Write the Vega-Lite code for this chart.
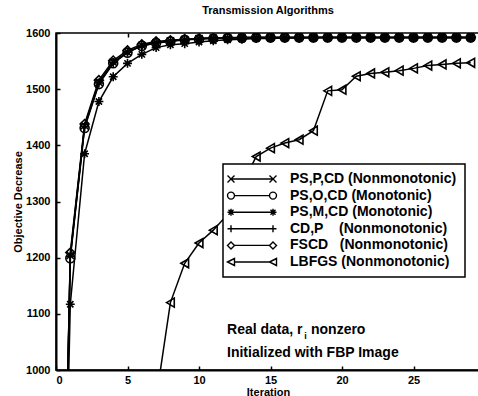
{
  "$schema": "https://vega.github.io/schema/vega-lite/v6.json",
  "width": 424,
  "height": 337,
  "autosize": "none",
  "padding": {"left": 56, "top": 33, "right": 0, "bottom": 26},
  "background": "white",
  "title": {"text": "Transmission Algorithms", "font": "Liberation Sans", "fontSize": 11, "fontWeight": "bold", "color": "black", "anchor": "middle", "offset": 11},
  "config": {
    "view": {"stroke": "black", "strokeWidth": 1.5},
    "axis": {"labelFont": "Liberation Sans", "labelFontWeight": "bold", "labelFontSize": 11, "labelColor": "black", "titleFont": "Liberation Sans", "titleFontWeight": "bold", "titleFontSize": 11, "titleColor": "black", "domainColor": "black", "domainWidth": 2, "tickColor": "black", "tickWidth": 1.5, "grid": false},
    "legend": {"orient": "none", "legendX": 167, "legendY": 131, "fillColor": "white", "strokeColor": "black", "strokeWidth": 1.5, "padding": 8, "labelFont": "Liberation Sans", "labelFontWeight": "bold", "labelFontSize": 14, "labelColor": "black", "labelLimit": 500, "labelOffset": 45, "rowPadding": 2.6, "symbolSize": 100, "symbolStrokeColor": "black", "symbolFillColor": "transparent", "symbolStrokeWidth": 1.4, "symbolOpacity": 1},
    "text": {"font": "Liberation Sans", "fontWeight": "bold", "color": "black"}
  },
  "datasets": {
    "curves": [
      {"series": "PS,P,CD (Nonmonotonic)", "x": 0, "y": 0},
      {"series": "PS,P,CD (Nonmonotonic)", "x": 1, "y": 1204},
      {"series": "PS,P,CD (Nonmonotonic)", "x": 2, "y": 1435},
      {"series": "PS,P,CD (Nonmonotonic)", "x": 3, "y": 1512},
      {"series": "PS,P,CD (Nonmonotonic)", "x": 4, "y": 1548},
      {"series": "PS,P,CD (Nonmonotonic)", "x": 5, "y": 1566},
      {"series": "PS,P,CD (Nonmonotonic)", "x": 6, "y": 1578},
      {"series": "PS,P,CD (Nonmonotonic)", "x": 7, "y": 1583},
      {"series": "PS,P,CD (Nonmonotonic)", "x": 8, "y": 1586},
      {"series": "PS,P,CD (Nonmonotonic)", "x": 9, "y": 1588},
      {"series": "PS,P,CD (Nonmonotonic)", "x": 10, "y": 1590},
      {"series": "PS,P,CD (Nonmonotonic)", "x": 11, "y": 1591},
      {"series": "PS,P,CD (Nonmonotonic)", "x": 12, "y": 1591},
      {"series": "PS,P,CD (Nonmonotonic)", "x": 13, "y": 1592},
      {"series": "PS,P,CD (Nonmonotonic)", "x": 14, "y": 1592},
      {"series": "PS,P,CD (Nonmonotonic)", "x": 15, "y": 1592},
      {"series": "PS,P,CD (Nonmonotonic)", "x": 16, "y": 1592},
      {"series": "PS,P,CD (Nonmonotonic)", "x": 17, "y": 1592},
      {"series": "PS,P,CD (Nonmonotonic)", "x": 18, "y": 1592},
      {"series": "PS,P,CD (Nonmonotonic)", "x": 19, "y": 1592},
      {"series": "PS,P,CD (Nonmonotonic)", "x": 20, "y": 1592},
      {"series": "PS,P,CD (Nonmonotonic)", "x": 21, "y": 1592},
      {"series": "PS,P,CD (Nonmonotonic)", "x": 22, "y": 1592},
      {"series": "PS,P,CD (Nonmonotonic)", "x": 23, "y": 1592},
      {"series": "PS,P,CD (Nonmonotonic)", "x": 24, "y": 1592},
      {"series": "PS,P,CD (Nonmonotonic)", "x": 25, "y": 1592},
      {"series": "PS,P,CD (Nonmonotonic)", "x": 26, "y": 1592},
      {"series": "PS,P,CD (Nonmonotonic)", "x": 27, "y": 1592},
      {"series": "PS,P,CD (Nonmonotonic)", "x": 28, "y": 1592},
      {"series": "PS,P,CD (Nonmonotonic)", "x": 29, "y": 1592},
      {"series": "PS,O,CD (Monotonic)", "x": 0, "y": 0},
      {"series": "PS,O,CD (Monotonic)", "x": 1, "y": 1199},
      {"series": "PS,O,CD (Monotonic)", "x": 2, "y": 1431},
      {"series": "PS,O,CD (Monotonic)", "x": 3, "y": 1509},
      {"series": "PS,O,CD (Monotonic)", "x": 4, "y": 1546},
      {"series": "PS,O,CD (Monotonic)", "x": 5, "y": 1565},
      {"series": "PS,O,CD (Monotonic)", "x": 6, "y": 1577},
      {"series": "PS,O,CD (Monotonic)", "x": 7, "y": 1582},
      {"series": "PS,O,CD (Monotonic)", "x": 8, "y": 1585},
      {"series": "PS,O,CD (Monotonic)", "x": 9, "y": 1588},
      {"series": "PS,O,CD (Monotonic)", "x": 10, "y": 1589},
      {"series": "PS,O,CD (Monotonic)", "x": 11, "y": 1590},
      {"series": "PS,O,CD (Monotonic)", "x": 12, "y": 1591},
      {"series": "PS,O,CD (Monotonic)", "x": 13, "y": 1591},
      {"series": "PS,O,CD (Monotonic)", "x": 14, "y": 1592},
      {"series": "PS,O,CD (Monotonic)", "x": 15, "y": 1592},
      {"series": "PS,O,CD (Monotonic)", "x": 16, "y": 1592},
      {"series": "PS,O,CD (Monotonic)", "x": 17, "y": 1592},
      {"series": "PS,O,CD (Monotonic)", "x": 18, "y": 1592},
      {"series": "PS,O,CD (Monotonic)", "x": 19, "y": 1592},
      {"series": "PS,O,CD (Monotonic)", "x": 20, "y": 1592},
      {"series": "PS,O,CD (Monotonic)", "x": 21, "y": 1592},
      {"series": "PS,O,CD (Monotonic)", "x": 22, "y": 1592},
      {"series": "PS,O,CD (Monotonic)", "x": 23, "y": 1592},
      {"series": "PS,O,CD (Monotonic)", "x": 24, "y": 1592},
      {"series": "PS,O,CD (Monotonic)", "x": 25, "y": 1592},
      {"series": "PS,O,CD (Monotonic)", "x": 26, "y": 1592},
      {"series": "PS,O,CD (Monotonic)", "x": 27, "y": 1592},
      {"series": "PS,O,CD (Monotonic)", "x": 28, "y": 1592},
      {"series": "PS,O,CD (Monotonic)", "x": 29, "y": 1592},
      {"series": "PS,M,CD (Monotonic)", "x": 0, "y": 0},
      {"series": "PS,M,CD (Monotonic)", "x": 1, "y": 1117},
      {"series": "PS,M,CD (Monotonic)", "x": 2, "y": 1385},
      {"series": "PS,M,CD (Monotonic)", "x": 3, "y": 1478},
      {"series": "PS,M,CD (Monotonic)", "x": 4, "y": 1522},
      {"series": "PS,M,CD (Monotonic)", "x": 5, "y": 1546},
      {"series": "PS,M,CD (Monotonic)", "x": 6, "y": 1562},
      {"series": "PS,M,CD (Monotonic)", "x": 7, "y": 1574},
      {"series": "PS,M,CD (Monotonic)", "x": 8, "y": 1579},
      {"series": "PS,M,CD (Monotonic)", "x": 9, "y": 1581},
      {"series": "PS,M,CD (Monotonic)", "x": 10, "y": 1584},
      {"series": "PS,M,CD (Monotonic)", "x": 11, "y": 1586},
      {"series": "PS,M,CD (Monotonic)", "x": 12, "y": 1588},
      {"series": "PS,M,CD (Monotonic)", "x": 13, "y": 1589},
      {"series": "PS,M,CD (Monotonic)", "x": 14, "y": 1590},
      {"series": "PS,M,CD (Monotonic)", "x": 15, "y": 1590},
      {"series": "PS,M,CD (Monotonic)", "x": 16, "y": 1591},
      {"series": "PS,M,CD (Monotonic)", "x": 17, "y": 1591},
      {"series": "PS,M,CD (Monotonic)", "x": 18, "y": 1592},
      {"series": "PS,M,CD (Monotonic)", "x": 19, "y": 1592},
      {"series": "PS,M,CD (Monotonic)", "x": 20, "y": 1592},
      {"series": "PS,M,CD (Monotonic)", "x": 21, "y": 1592},
      {"series": "PS,M,CD (Monotonic)", "x": 22, "y": 1592},
      {"series": "PS,M,CD (Monotonic)", "x": 23, "y": 1592},
      {"series": "PS,M,CD (Monotonic)", "x": 24, "y": 1592},
      {"series": "PS,M,CD (Monotonic)", "x": 25, "y": 1592},
      {"series": "PS,M,CD (Monotonic)", "x": 26, "y": 1592},
      {"series": "PS,M,CD (Monotonic)", "x": 27, "y": 1592},
      {"series": "PS,M,CD (Monotonic)", "x": 28, "y": 1592},
      {"series": "PS,M,CD (Monotonic)", "x": 29, "y": 1592},
      {"series": "CD,P\u00a0\u00a0\u00a0\u00a0(Nonmonotonic)", "x": 0, "y": 0},
      {"series": "CD,P\u00a0\u00a0\u00a0\u00a0(Nonmonotonic)", "x": 1, "y": 1202},
      {"series": "CD,P\u00a0\u00a0\u00a0\u00a0(Nonmonotonic)", "x": 2, "y": 1433},
      {"series": "CD,P\u00a0\u00a0\u00a0\u00a0(Nonmonotonic)", "x": 3, "y": 1511},
      {"series": "CD,P\u00a0\u00a0\u00a0\u00a0(Nonmonotonic)", "x": 4, "y": 1547},
      {"series": "CD,P\u00a0\u00a0\u00a0\u00a0(Nonmonotonic)", "x": 5, "y": 1566},
      {"series": "CD,P\u00a0\u00a0\u00a0\u00a0(Nonmonotonic)", "x": 6, "y": 1577},
      {"series": "CD,P\u00a0\u00a0\u00a0\u00a0(Nonmonotonic)", "x": 7, "y": 1583},
      {"series": "CD,P\u00a0\u00a0\u00a0\u00a0(Nonmonotonic)", "x": 8, "y": 1586},
      {"series": "CD,P\u00a0\u00a0\u00a0\u00a0(Nonmonotonic)", "x": 9, "y": 1588},
      {"series": "CD,P\u00a0\u00a0\u00a0\u00a0(Nonmonotonic)", "x": 10, "y": 1590},
      {"series": "CD,P\u00a0\u00a0\u00a0\u00a0(Nonmonotonic)", "x": 11, "y": 1591},
      {"series": "CD,P\u00a0\u00a0\u00a0\u00a0(Nonmonotonic)", "x": 12, "y": 1591},
      {"series": "CD,P\u00a0\u00a0\u00a0\u00a0(Nonmonotonic)", "x": 13, "y": 1592},
      {"series": "CD,P\u00a0\u00a0\u00a0\u00a0(Nonmonotonic)", "x": 14, "y": 1592},
      {"series": "CD,P\u00a0\u00a0\u00a0\u00a0(Nonmonotonic)", "x": 15, "y": 1592},
      {"series": "CD,P\u00a0\u00a0\u00a0\u00a0(Nonmonotonic)", "x": 16, "y": 1592},
      {"series": "CD,P\u00a0\u00a0\u00a0\u00a0(Nonmonotonic)", "x": 17, "y": 1592},
      {"series": "CD,P\u00a0\u00a0\u00a0\u00a0(Nonmonotonic)", "x": 18, "y": 1592},
      {"series": "CD,P\u00a0\u00a0\u00a0\u00a0(Nonmonotonic)", "x": 19, "y": 1592},
      {"series": "CD,P\u00a0\u00a0\u00a0\u00a0(Nonmonotonic)", "x": 20, "y": 1592},
      {"series": "CD,P\u00a0\u00a0\u00a0\u00a0(Nonmonotonic)", "x": 21, "y": 1592},
      {"series": "CD,P\u00a0\u00a0\u00a0\u00a0(Nonmonotonic)", "x": 22, "y": 1592},
      {"series": "CD,P\u00a0\u00a0\u00a0\u00a0(Nonmonotonic)", "x": 23, "y": 1592},
      {"series": "CD,P\u00a0\u00a0\u00a0\u00a0(Nonmonotonic)", "x": 24, "y": 1592},
      {"series": "CD,P\u00a0\u00a0\u00a0\u00a0(Nonmonotonic)", "x": 25, "y": 1592},
      {"series": "CD,P\u00a0\u00a0\u00a0\u00a0(Nonmonotonic)", "x": 26, "y": 1592},
      {"series": "CD,P\u00a0\u00a0\u00a0\u00a0(Nonmonotonic)", "x": 27, "y": 1592},
      {"series": "CD,P\u00a0\u00a0\u00a0\u00a0(Nonmonotonic)", "x": 28, "y": 1592},
      {"series": "CD,P\u00a0\u00a0\u00a0\u00a0(Nonmonotonic)", "x": 29, "y": 1592},
      {"series": "FSCD\u00a0\u00a0\u00a0(Nonmonotonic)", "x": 0, "y": 0},
      {"series": "FSCD\u00a0\u00a0\u00a0(Nonmonotonic)", "x": 1, "y": 1209},
      {"series": "FSCD\u00a0\u00a0\u00a0(Nonmonotonic)", "x": 2, "y": 1438},
      {"series": "FSCD\u00a0\u00a0\u00a0(Nonmonotonic)", "x": 3, "y": 1516},
      {"series": "FSCD\u00a0\u00a0\u00a0(Nonmonotonic)", "x": 4, "y": 1551},
      {"series": "FSCD\u00a0\u00a0\u00a0(Nonmonotonic)", "x": 5, "y": 1569},
      {"series": "FSCD\u00a0\u00a0\u00a0(Nonmonotonic)", "x": 6, "y": 1580},
      {"series": "FSCD\u00a0\u00a0\u00a0(Nonmonotonic)", "x": 7, "y": 1585},
      {"series": "FSCD\u00a0\u00a0\u00a0(Nonmonotonic)", "x": 8, "y": 1587},
      {"series": "FSCD\u00a0\u00a0\u00a0(Nonmonotonic)", "x": 9, "y": 1589},
      {"series": "FSCD\u00a0\u00a0\u00a0(Nonmonotonic)", "x": 10, "y": 1590},
      {"series": "FSCD\u00a0\u00a0\u00a0(Nonmonotonic)", "x": 11, "y": 1591},
      {"series": "FSCD\u00a0\u00a0\u00a0(Nonmonotonic)", "x": 12, "y": 1592},
      {"series": "FSCD\u00a0\u00a0\u00a0(Nonmonotonic)", "x": 13, "y": 1592},
      {"series": "FSCD\u00a0\u00a0\u00a0(Nonmonotonic)", "x": 14, "y": 1592},
      {"series": "FSCD\u00a0\u00a0\u00a0(Nonmonotonic)", "x": 15, "y": 1592},
      {"series": "FSCD\u00a0\u00a0\u00a0(Nonmonotonic)", "x": 16, "y": 1592},
      {"series": "FSCD\u00a0\u00a0\u00a0(Nonmonotonic)", "x": 17, "y": 1592},
      {"series": "FSCD\u00a0\u00a0\u00a0(Nonmonotonic)", "x": 18, "y": 1592},
      {"series": "FSCD\u00a0\u00a0\u00a0(Nonmonotonic)", "x": 19, "y": 1592},
      {"series": "FSCD\u00a0\u00a0\u00a0(Nonmonotonic)", "x": 20, "y": 1592},
      {"series": "FSCD\u00a0\u00a0\u00a0(Nonmonotonic)", "x": 21, "y": 1592},
      {"series": "FSCD\u00a0\u00a0\u00a0(Nonmonotonic)", "x": 22, "y": 1592},
      {"series": "FSCD\u00a0\u00a0\u00a0(Nonmonotonic)", "x": 23, "y": 1592},
      {"series": "FSCD\u00a0\u00a0\u00a0(Nonmonotonic)", "x": 24, "y": 1592},
      {"series": "FSCD\u00a0\u00a0\u00a0(Nonmonotonic)", "x": 25, "y": 1592},
      {"series": "FSCD\u00a0\u00a0\u00a0(Nonmonotonic)", "x": 26, "y": 1592},
      {"series": "FSCD\u00a0\u00a0\u00a0(Nonmonotonic)", "x": 27, "y": 1592},
      {"series": "FSCD\u00a0\u00a0\u00a0(Nonmonotonic)", "x": 28, "y": 1592},
      {"series": "FSCD\u00a0\u00a0\u00a0(Nonmonotonic)", "x": 29, "y": 1592},
      {"series": "LBFGS (Nonmonotonic)", "x": 7, "y": 948},
      {"series": "LBFGS (Nonmonotonic)", "x": 8, "y": 1120},
      {"series": "LBFGS (Nonmonotonic)", "x": 9, "y": 1190},
      {"series": "LBFGS (Nonmonotonic)", "x": 10, "y": 1226},
      {"series": "LBFGS (Nonmonotonic)", "x": 11, "y": 1249},
      {"series": "LBFGS (Nonmonotonic)", "x": 12, "y": 1277},
      {"series": "LBFGS (Nonmonotonic)", "x": 13, "y": 1330},
      {"series": "LBFGS (Nonmonotonic)", "x": 14, "y": 1380},
      {"series": "LBFGS (Nonmonotonic)", "x": 15, "y": 1395},
      {"series": "LBFGS (Nonmonotonic)", "x": 16, "y": 1404},
      {"series": "LBFGS (Nonmonotonic)", "x": 17, "y": 1410},
      {"series": "LBFGS (Nonmonotonic)", "x": 18, "y": 1426},
      {"series": "LBFGS (Nonmonotonic)", "x": 19, "y": 1497},
      {"series": "LBFGS (Nonmonotonic)", "x": 20, "y": 1499},
      {"series": "LBFGS (Nonmonotonic)", "x": 21, "y": 1523},
      {"series": "LBFGS (Nonmonotonic)", "x": 22, "y": 1528},
      {"series": "LBFGS (Nonmonotonic)", "x": 23, "y": 1530},
      {"series": "LBFGS (Nonmonotonic)", "x": 24, "y": 1533},
      {"series": "LBFGS (Nonmonotonic)", "x": 25, "y": 1537},
      {"series": "LBFGS (Nonmonotonic)", "x": 26, "y": 1542},
      {"series": "LBFGS (Nonmonotonic)", "x": 27, "y": 1544},
      {"series": "LBFGS (Nonmonotonic)", "x": 28, "y": 1546},
      {"series": "LBFGS (Nonmonotonic)", "x": 29, "y": 1547}
    ],
    "notes": [
      {"x": 11.96, "y": 1071, "text": "Real data, r"},
      {"x": 17.83, "y": 1071, "text": "nonzero"},
      {"x": 11.96, "y": 1030, "text": "Initialized with FBP Image"}
    ],
    "subs": [
      {"x": 17.45, "y": 1060, "text": "i"}
    ]
  },
  "resolve": {"scale": {"shape": "independent"}, "axis": {"x": "independent", "y": "independent"}},
  "layer": [
    {
      "data": {"name": "curves"},
      "mark": {"type": "line", "clip": true, "color": "black", "strokeWidth": 1.5},
      "encoding": {
        "x": {"field": "x", "type": "quantitative", "scale": {"domain": [0, 29.65], "nice": false, "zero": false},
              "axis": {"orient": "bottom", "values": [0, 5, 10, 15, 20, 25], "format": "d", "tickSize": -4, "labelPadding": 8, "title": "Iteration", "titlePadding": 1}},
        "y": {"field": "y", "type": "quantitative", "scale": {"domain": [1000, 1600], "nice": false, "zero": false},
              "axis": {"orient": "left", "values": [1000, 1100, 1200, 1300, 1400, 1500, 1600], "format": "d", "tickSize": -4, "labelPadding": 10, "labelColor": "#000000", "titleColor": "#000000", "title": "Objective Decrease", "titlePadding": 2}},
        "detail": {"field": "series"}
      }
    },
    {
      "data": {"name": "curves"},
      "mark": {"type": "point", "clip": true, "filled": false, "color": "black", "strokeWidth": 1.6, "size": 80, "opacity": 1},
      "encoding": {
        "x": {"field": "x", "type": "quantitative", "axis": null},
        "y": {"field": "y", "type": "quantitative", "axis": null},
        "shape": {"field": "series", "type": "nominal", "legend": null,
          "scale": {"domain": ["PS,P,CD (Nonmonotonic)", "PS,O,CD (Monotonic)", "PS,M,CD (Monotonic)", "CD,P\u00a0\u00a0\u00a0\u00a0(Nonmonotonic)", "FSCD\u00a0\u00a0\u00a0(Nonmonotonic)", "LBFGS (Nonmonotonic)"],
                    "range": ["M-0.8,-0.8L0.8,0.8M-0.8,0.8L0.8,-0.8", "circle", "M-1,0H1M0,-1V1M-0.7,-0.7L0.7,0.7M-0.7,0.7L0.7,-0.7", "M-1,0H1M0,-1V1", "diamond", "triangle-left"]}}
      }
    },
    {
      "data": {"name": "curves"},
      "mark": {"type": "point", "clip": true, "filled": false, "color": "black", "opacity": 0, "size": 100},
      "encoding": {
        "x": {"field": "x", "type": "quantitative", "axis": {"orient": "top", "values": [5, 10, 15, 20, 25], "labels": false, "title": null, "domain": false, "tickSize": -4}},
        "y": {"field": "y", "type": "quantitative", "axis": null},
        "shape": {"field": "series", "type": "nominal",
          "scale": {"domain": ["PS,P,CD (Nonmonotonic)", "PS,O,CD (Monotonic)", "PS,M,CD (Monotonic)", "CD,P\u00a0\u00a0\u00a0\u00a0(Nonmonotonic)", "FSCD\u00a0\u00a0\u00a0(Nonmonotonic)", "LBFGS (Nonmonotonic)"],
                    "range": [
                      "M-1.4,0H7.0M-2.1,-0.7L-0.7,0.7M-2.1,0.7L-0.7,-0.7M6.3,-0.7L7.7,0.7M6.3,0.7L7.7,-0.7",
                      "M-0.7,0H6.3M-0.7,0A0.7,0.7 0 1,1 -2.1,0A0.7,0.7 0 1,1 -0.7,0M7.7,0A0.7,0.7 0 1,1 6.3,0A0.7,0.7 0 1,1 7.7,0",
                      "M-1.4,0H7.0M-2.1,0H-0.7M-1.4,-0.7V0.7M-1.9,-0.5L-0.9,0.5M-1.9,0.5L-0.9,-0.5M6.3,0H7.7M7.0,-0.7V0.7M6.5,-0.5L7.5,0.5M6.5,0.5L7.5,-0.5",
                      "M-2.1,0H7.7M-1.4,-0.7V0.7M7.0,-0.7V0.7",
                      "M-0.7,0H6.3M-2.1,0L-1.4,-0.7L-0.7,0L-1.4,0.7ZM6.3,0L7.0,-0.7L7.7,0L7.0,0.7Z",
                      "M-0.7,0H6.3M-2.1,0L-0.7,-0.7L-0.7,0.7ZM6.3,0L7.7,-0.7L7.7,0.7Z"
                    ]},
          "legend": {"title": null,
            "encode": {"symbols": {"update": {"opacity": {"value": 1}, "fill": {"value": "transparent"}, "stroke": {"value": "black"}, "strokeWidth": {"value": 1.4}, "size": {"value": 100}}}}}}
      }
    },
    {
      "data": {"name": "notes"},
      "mark": {"type": "text", "align": "left", "baseline": "middle", "fontSize": 14},
      "encoding": {
        "x": {"field": "x", "type": "quantitative", "axis": null},
        "y": {"field": "y", "type": "quantitative", "axis": null},
        "text": {"field": "text"}
      }
    },
    {
      "data": {"name": "subs"},
      "mark": {"type": "text", "align": "center", "baseline": "middle", "fontSize": 9},
      "encoding": {
        "x": {"field": "x", "type": "quantitative", "axis": null},
        "y": {"field": "y", "type": "quantitative", "axis": null},
        "text": {"field": "text"}
      }
    }
  ]
}
